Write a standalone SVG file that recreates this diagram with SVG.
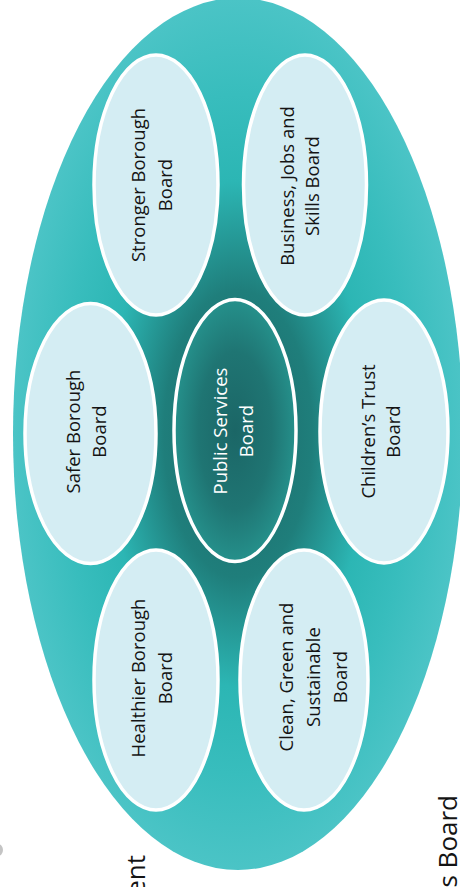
<svg xmlns="http://www.w3.org/2000/svg" width="460" height="887" viewBox="0 0 460 887">
  <defs>
    <radialGradient id="bigGrad" cx="0.5" cy="0.5" r="0.5">
      <stop offset="0" stop-color="#1b6968"/>
      <stop offset="0.33" stop-color="#1f7e7b"/>
      <stop offset="0.58" stop-color="#2cb6b4"/>
      <stop offset="0.78" stop-color="#38bdbd"/>
      <stop offset="1" stop-color="#4bc4c6"/>
    </radialGradient>
    <radialGradient id="coreGrad" cx="0.5" cy="0.5" r="0.5">
      <stop offset="0" stop-color="#1b6666"/>
      <stop offset="0.6" stop-color="#1f7573"/>
      <stop offset="1" stop-color="#25908b"/>
    </radialGradient>
  </defs>
  <style>
    .sat { fill: #d4edf3; stroke: #ffffff; stroke-width: 3.5; }
    .core { fill: url(#coreGrad); stroke: #ffffff; stroke-width: 3.5; }
    .lbl { font-family: "Open Sans", "Liberation Sans", sans-serif; font-size: 18.5px; fill: #141414; text-anchor: middle; }
    .lblw { font-family: "Open Sans", "Liberation Sans", sans-serif; font-size: 18.5px; fill: #ffffff; text-anchor: middle; }
    .cut { font-family: "Open Sans", "Liberation Sans", sans-serif; font-size: 26px; fill: #141414; text-anchor: end; }
  </style>

  <g id="outer">
    <ellipse cx="238" cy="434" rx="225" ry="436" fill="url(#bigGrad)"/>
  </g>

  <g id="stronger-borough-board">
    <ellipse class="sat" cx="156" cy="185" rx="62" ry="130"/>
    <text class="lbl" transform="translate(156,185) rotate(-90)"><tspan x="0" y="-11">Stronger Borough</tspan><tspan x="0" y="16">Board</tspan></text>
  </g>

  <g id="business-jobs-skills-board">
    <ellipse class="sat" cx="305" cy="185" rx="61.5" ry="130"/>
    <text class="lbl" transform="translate(305,186) rotate(-90)"><tspan x="0" y="-11.5">Business, Jobs and</tspan><tspan x="0" y="14">Skills Board</tspan></text>
  </g>

  <g id="safer-borough-board">
    <ellipse class="sat" cx="90.5" cy="433.5" rx="65.5" ry="130"/>
    <text class="lbl" transform="translate(90.5,431.5) rotate(-90)"><tspan x="0" y="-10.5">Safer Borough</tspan><tspan x="0" y="15.5">Board</tspan></text>
  </g>

  <g id="public-services-board">
    <ellipse class="core" cx="235" cy="430.5" rx="61" ry="131"/>
    <text class="lblw" transform="translate(235,431) rotate(-90)"><tspan x="0" y="-8.5">Public Services</tspan><tspan x="0" y="18">Board</tspan></text>
  </g>

  <g id="childrens-trust-board">
    <ellipse class="sat" cx="384" cy="431.5" rx="64" ry="131.5"/>
    <text class="lbl" transform="translate(384,431.5) rotate(-90)"><tspan x="0" y="-9">Children’s Trust</tspan><tspan x="0" y="16">Board</tspan></text>
  </g>

  <g id="healthier-borough-board">
    <ellipse class="sat" cx="156" cy="680" rx="62" ry="130"/>
    <text class="lbl" transform="translate(156,678) rotate(-90)"><tspan x="0" y="-11">Healthier Borough</tspan><tspan x="0" y="16">Board</tspan></text>
  </g>

  <g id="clean-green-sustainable-board">
    <ellipse class="sat" cx="304" cy="680" rx="64" ry="130"/>
    <text class="lbl" transform="translate(304,677) rotate(-90)"><tspan x="0" y="-10.7">Clean, Green and</tspan><tspan x="0" y="16">Sustainable</tspan><tspan x="0" y="42.7">Board</tspan></text>
  </g>

  <g id="edge-fragments">
    <ellipse cx="-2" cy="850" rx="5" ry="6" fill="#c4c4c4"/>
    <text class="cut" transform="translate(145,855) rotate(-90)">ent</text>
    <text class="cut" transform="translate(457,795) rotate(-90)">s Board</text>
  </g>
</svg>
